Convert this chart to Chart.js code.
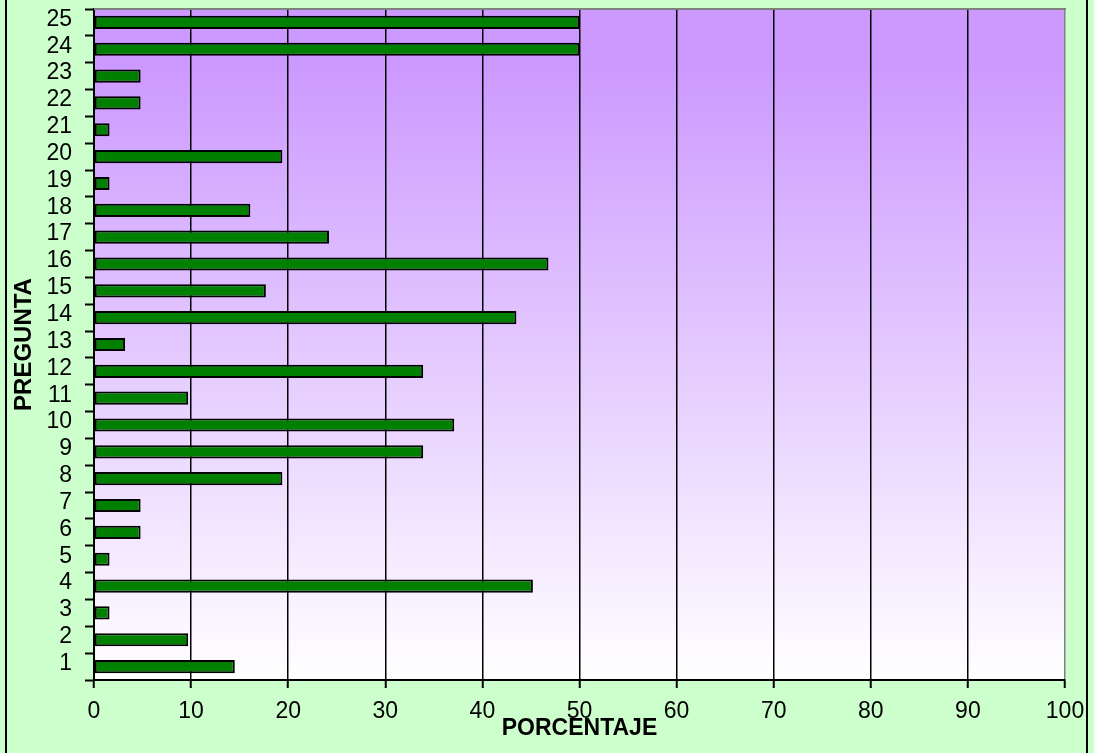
<!DOCTYPE html>
<html>
<head>
<meta charset="utf-8">
<script src="https://cdn.jsdelivr.net/npm/chart.js@4/dist/chart.umd.min.js"></script>
<style>
  html, body { margin: 0; padding: 0; background: #CCFFCC; }
  #wrap { width: 1094px; height: 753px; }
</style>
</head>
<body>
<div id="wrap"><canvas id="chart" width="1094" height="753"></canvas></div>
<script>
// Questions 1..25 and the share of answers for each one (%)
const preguntas = ['1','2','3','4','5','6','7','8','9','10','11','12','13','14','15','16','17','18','19','20','21','22','23','24','25'];
const porcentajes = [14.5, 9.7, 1.6, 45.2, 1.6, 4.8, 4.8, 19.4, 33.9, 37.1, 9.7, 33.9, 3.2, 43.5, 17.7, 46.8, 24.2, 16.1, 1.6, 19.4, 1.6, 4.8, 4.8, 50, 50];
const ejeMin = 0, ejeMax = 100, ejePaso = 10;
const tituloX = 'PORCENTAJE';
const tituloY = 'PREGUNTA';

const FONT = '"Liberation Sans", Arial, sans-serif';

// Green frame, purple-to-white plot background, gray top edge and axis titles
const marco = {
  id: 'marco',
  beforeDraw(chart) {
    const { ctx, chartArea: a, width, height } = chart;
    ctx.save();
    ctx.fillStyle = '#CCFFCC';
    ctx.fillRect(0, 0, width, height);
    ctx.strokeStyle = '#000';
    ctx.lineWidth = 2;
    ctx.beginPath();
    ctx.moveTo(6, 0); ctx.lineTo(6, height);
    ctx.moveTo(1087, 0); ctx.lineTo(1087, height);
    ctx.stroke();
    const g = ctx.createLinearGradient(0, a.top, 0, a.bottom);
    g.addColorStop(0, '#CC99FF');
    g.addColorStop(0.08, '#CC99FF');
    g.addColorStop(1, '#FFFFFF');
    ctx.fillStyle = g;
    ctx.fillRect(a.left, a.top, a.right - a.left, a.bottom - a.top);
    ctx.restore();
  },
  beforeDatasetsDraw(chart) {
    const { ctx, chartArea: a } = chart;
    ctx.save();
    ctx.strokeStyle = '#808080';
    ctx.lineWidth = 2;
    ctx.beginPath();
    ctx.moveTo(a.left, a.top);
    ctx.lineTo(a.right + 1, a.top);
    ctx.stroke();
    ctx.restore();
  },
  afterDraw(chart) {
    const { ctx, chartArea: a } = chart;
    ctx.save();
    ctx.fillStyle = '#000';
    ctx.font = 'bold 23px ' + FONT;
    ctx.textAlign = 'center';
    ctx.textBaseline = 'middle';
    ctx.fillText(tituloX, (a.left + a.right) / 2, 729);
    ctx.font = 'bold 24px ' + FONT;
    ctx.translate(24, (a.top + a.bottom) / 2);
    ctx.rotate(-Math.PI / 2);
    ctx.fillText(tituloY, 0, 0);
    ctx.restore();
  }
};

new Chart(document.getElementById('chart'), {
  type: 'bar',
  data: {
    labels: preguntas,
    datasets: [{
      data: porcentajes,
      backgroundColor: '#008000',
      borderColor: '#000000',
      borderWidth: 2,
      borderSkipped: false,
      barPercentage: 0.49,
      categoryPercentage: 1
    }]
  },
  options: {
    indexAxis: 'y',
    responsive: false,
    animation: false,
    layout: { padding: { top: 9, right: 29, left: 0, bottom: 0 } },
    plugins: { legend: { display: false }, tooltip: { enabled: false } },
    scales: {
      x: {
        type: 'linear',
        min: ejeMin,
        max: ejeMax,
        afterFit(s) { s.height = 73; s.paddingLeft = 0; s.paddingRight = 0; },
        ticks: {
          stepSize: ejePaso,
          color: '#000',
          font: { family: FONT, size: 23 },
          padding: 10,
          maxRotation: 0
        },
        grid: {
          color: (c) => (c.tick && c.tick.value === ejeMax) ? '#808080' : '#000',
          lineWidth: 1.5,
          tickColor: '#000',
          tickLength: 8,
          tickWidth: 2
        },
        border: { color: '#000', width: 2 }
      },
      y: {
        reverse: true,
        afterFit(s) { s.width = 94; s.paddingTop = 0; s.paddingBottom = 0; },
        ticks: {
          color: '#000',
          font: { family: FONT, size: 23 },
          padding: 13,
          autoSkip: false,
          labelOffset: -3
        },
        grid: {
          offset: true,
          drawOnChartArea: false,
          tickColor: '#000',
          tickLength: 9,
          tickWidth: 2
        },
        border: { color: '#000', width: 2 }
      }
    }
  },
  plugins: [marco]
});
</script>
</body>
</html>
